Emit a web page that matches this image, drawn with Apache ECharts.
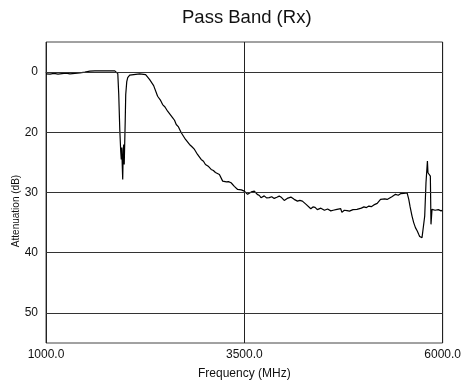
<!DOCTYPE html>
<html>
<head>
<meta charset="utf-8">
<script src="https://cdn.jsdelivr.net/npm/echarts@6/dist/echarts.min.js"></script>
<style>
html,body{margin:0;padding:0;background:#fff;}
#chart{width:464px;height:385px;}
</style>
</head>
<body>
<div id="chart"></div>
<script>
// Frequency (MHz)
var freq = [1000,1050,1101,1151,1201,1251,1302,1364,1427,1490,1553,1616,1678,1741,1804,1867,1892,
  1905,1917,1930,1942,1949,1955,1961,1967,1974,1980,1986,1992,1999,2005,2018,2030,2055,2080,2181,2256,
  2307,2357,2407,2440,2470,2500,2533,2595,2620,2642,2670,2705,2730,2759,2809,2840,2872,2910,2930,2956,2985,3010,3050,3082,3110,3136,3160,3186,3227,3250,3274,3300,3333,
  3374,3416,3440,3462,3485,3500,3520,3541,3565,3588,3626,3663,3690,3710,3751,3780,3814,3845,3877,3910,3940,3970,4003,4040,4060,4087,4128,4150,4170,4200,4232,4255,4279,
  4300,4338,4365,4392,4420,4442,4465,4490,4510,4526,4550,4570,4590,4609,4620,4640,4668,4690,4715,4730,4744,4760,4778,4795,4810,4825,4840,4870,4894,4920,4945,4975,5008,5040,5070,5100,5133,
  5150,5175,5195,5217,5240,5271,5300,5322,5360,5380,5406,5440,5469,5490,5510,5530,5552,5573,5590,5614,5635,5657,5680,5698,5710,5720,5730,5740,5750,5761,5774,5790,5808,5815,
  5833,5845,5853,5866,5875,5887,5905,5928,5945,5962,5980,5994];
// Attenuation position (axis units; gridlines every 10)
var atten = [0.30,0.33,0.22,0.35,0.25,0.17,0.28,0.22,0.12,0.00,-0.17,-0.20,-0.22,-0.20,-0.22,-0.20,-0.17,
  0.25,3.73,9.54,13.18,14.51,12.52,15.34,17.83,12.85,12.02,15.34,15.67,7.88,3.73,1.58,0.91,0.50,0.30,0.28,0.41,
  1.24,2.24,4.01,4.60,5.39,5.80,6.50,7.55,8.00,8.71,9.10,10.08,10.40,11.19,12.02,12.40,12.85,13.68,13.90,14.51,14.80,15.34,15.70,16.17,16.35,16.67,16.80,17.00,18.11,18.05,18.24,18.20,18.38,
  18.99,19.49,19.40,19.57,19.45,19.77,19.95,20.31,20.05,19.90,19.77,20.31,20.50,20.86,20.56,20.90,20.86,20.70,20.98,20.80,20.60,20.85,21.31,20.98,21.10,20.76,21.14,21.00,21.43,21.30,21.43,21.60,21.97,
  22.20,22.69,22.40,22.47,22.85,22.80,22.60,22.55,22.95,22.92,22.75,22.70,23.05,23.25,22.95,22.95,22.80,22.90,22.69,23.30,23.13,22.95,23.25,23.00,22.90,23.10,23.08,22.85,22.72,22.80,22.52,22.60,22.39,22.50,22.26,22.35,22.06,
  22.10,21.81,21.55,21.14,21.25,21.06,21.15,20.86,20.70,20.85,20.31,20.45,20.20,20.35,20.15,20.25,20.07,21.14,22.40,23.91,25.00,25.84,26.40,26.95,27.30,27.60,27.20,27.50,27.70,27.33,23.91,18.37,14.79,16.72,
  17.00,17.28,25.29,22.80,23.00,22.69,22.95,23.08,22.85,22.89,23.05,22.97];
var xTicks = [1000, 3500, 6000];
var yTickPos = [0, 10, 20, 30, 40];
var yTickLabels = ['0', '20', '30', '40', '50'];

var data = freq.map(function (f, i) { return [f, atten[i]]; });
var FONT = 'Liberation Sans, Arial, sans-serif';
var chart = echarts.init(document.getElementById('chart'));
chart.setOption({
  animation: false,
  backgroundColor: '#fff',
  title: {
    text: 'Pass Band (Rx)', left: 182, top: 8, padding: 0,
    textStyle: { fontSize: 18.5, fontWeight: 'normal', color: '#111', fontFamily: FONT }
  },
  grid: { left: 46, right: 20, top: 42, bottom: 41, show: true, borderColor: '#444', borderWidth: 1, containLabel: false },
  xAxis: {
    type: 'value', min: xTicks[0], max: xTicks[2], interval: xTicks[1] - xTicks[0],
    name: 'Frequency (MHz)', nameLocation: 'middle', nameGap: 25,
    nameTextStyle: { fontSize: 12, color: '#111', fontFamily: FONT },
    axisLine: { show: true, lineStyle: { color: '#444' } },
    axisTick: { show: false },
    axisLabel: { fontSize: 12, color: '#111', fontFamily: FONT, margin: 6,
      showMinLabel: true, showMaxLabel: true,
      formatter: function (v) { return v.toFixed(1); } },
    splitLine: { show: true, lineStyle: { color: '#222', width: 1 } }
  },
  yAxis: {
    type: 'value', inverse: true, min: -5, max: 45, interval: 5,
    axisLine: { show: false },
    axisTick: { show: false },
    axisLabel: { fontSize: 12, color: '#111', fontFamily: FONT, margin: 8,
      formatter: function (v) { var k = yTickPos.indexOf(v); return k >= 0 ? yTickLabels[k] : ''; } },
    splitLine: { show: false }
  },
  graphic: [{
    type: 'text', x: 16, y: 211, rotation: Math.PI / 2,
    style: { text: 'Attenuation (dB)', fontSize: 10, fill: '#111', fontFamily: FONT, align: 'center', verticalAlign: 'middle' }
  }],
  series: [{
    type: 'line', data: data, showSymbol: false, symbol: 'none',
    lineStyle: { color: '#000', width: 1.2 },
    markLine: {
      silent: true, symbol: 'none', label: { show: false },
      lineStyle: { color: '#333', width: 1, type: 'solid' },
      data: yTickPos.map(function (p) { return { yAxis: p }; })
    }
  }]
});
</script>
</body>
</html>
